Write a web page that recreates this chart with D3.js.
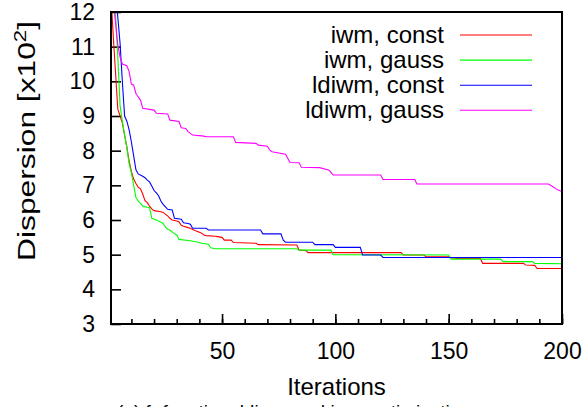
<!DOCTYPE html>
<html>
<head>
<meta charset="utf-8">
<script src="https://cdn.jsdelivr.net/npm/d3@7/dist/d3.min.js"></script>
<style>
  body { margin: 0; background: #fff; }
  text { font-family: "Liberation Sans", Arial, sans-serif; }
</style>
</head>
<body>
<svg id="chart" width="588" height="407"></svg>
<script>
// series: [iteration, dispersion x10^2]
const iwmConst = [[1,12.45],[2,11.3],[3,10.25],[4,9.2],[5,9.0],[6,8.8],[7,8.45],[8,8.1],[9,7.7],[10,7.4],[11,7.18],[12,7.05],[13,6.95],[14,6.9],[15,6.75],[16,6.56],[17,6.5],[18,6.4],[19,6.32],[20,6.27],[23,6.24],[24,6.22],[25,6.17],[26,6.12],[27,6.05],[28,6.0],[30,5.97],[31,5.95],[32,5.85],[33,5.82],[35,5.78],[36,5.76],[38,5.7],[40,5.65],[41,5.62],[42,5.57],[43,5.55],[47,5.53],[48,5.52],[50,5.5],[51,5.42],[54,5.42],[55,5.35],[65,5.33],[66,5.29],[83,5.28],[84,5.13],[87,5.12],[88,5.06],[129,5.06],[130,4.99],[139,4.99],[140,4.94],[150,4.94],[151,4.91],[154,4.89],[164,4.89],[165,4.75],[183,4.75],[184,4.7],[188,4.69],[189,4.6],[200,4.6]];
const iwmGauss = [[1,14.2],[2,13.1],[3,11.9],[4,10.7],[5,9.3],[6,8.85],[7,8.45],[8,8.08],[9,7.62],[10,7.35],[11,7.0],[12,6.65],[13,6.55],[14,6.48],[15,6.4],[17,6.37],[18,6.36],[19,6.05],[21,6.0],[22,5.97],[24,5.9],[25,5.8],[26,5.73],[27,5.71],[29,5.6],[30,5.57],[31,5.44],[35,5.41],[36,5.4],[40,5.35],[41,5.33],[44,5.3],[45,5.2],[47,5.17],[83,5.17],[84,5.13],[98,5.13],[99,5.0],[150,4.99],[151,4.87],[173,4.87],[174,4.8],[187,4.8],[188,4.75],[200,4.74]];
const ldiwmConst = [[1,14.6],[2,13.5],[3,12.6],[4,11.85],[5,11.1],[6,10.0],[7,9.0],[8,8.85],[9,8.6],[10,8.25],[11,7.85],[12,7.45],[13,7.33],[15,7.26],[16,7.22],[17,7.15],[18,7.1],[19,6.98],[20,6.85],[21,6.78],[22,6.7],[23,6.55],[24,6.45],[25,6.38],[26,6.31],[28,6.29],[29,6.05],[32,6.02],[33,5.92],[35,5.9],[36,5.88],[37,5.76],[43,5.76],[44,5.71],[67,5.71],[68,5.6],[76,5.6],[77,5.42],[78,5.36],[90,5.36],[91,5.29],[99,5.29],[100,5.21],[111,5.21],[112,4.99],[120,4.99],[121,4.92],[200,4.92]];
const ldiwmGauss = [[1,13.2],[2,12.3],[3,11.7],[4,11.05],[5,10.7],[6,10.5],[8,10.45],[9,10.28],[10,9.92],[11,9.89],[12,9.65],[13,9.55],[14,9.46],[15,9.22],[20,9.17],[21,9.08],[26,9.06],[27,8.88],[31,8.84],[32,8.66],[34,8.64],[35,8.55],[37,8.45],[42,8.42],[43,8.4],[55,8.4],[56,8.24],[65,8.21],[66,8.16],[70,8.13],[71,8.02],[72,7.97],[78,7.9],[80,7.66],[84,7.65],[85,7.52],[93,7.51],[97,7.44],[98,7.38],[99,7.3],[120,7.3],[121,7.17],[135,7.17],[136,7.04],[194,7.04],[196,6.96],[198,6.87],[200,6.82]];

const seriesNames = ['iwm, const', 'iwm, gauss', 'ldiwm, const', 'ldiwm, gauss'];
const xMajorTicks = [50, 100, 150, 200];
const xMinorTicks = d3.range(10, 201, 10);
const yTicks = d3.range(3, 13);

const colors = ['#ff0000', '#00ff00', '#0000ff', '#ff00ff'];
const allSeries = [iwmConst, iwmGauss, ldiwmConst, ldiwmGauss];

const plotLeft = 111, plotRight = 562, plotTop = 12, plotBottom = 324;

const svg = d3.select('#chart');

const x = d3.scaleLinear().domain([1, 200]).range([plotLeft, plotRight]);
const y = d3.scaleLinear().domain([3, 12]).range([plotBottom, plotTop]);

svg.append('defs').append('clipPath').attr('id', 'plot')
  .append('rect')
  .attr('x', plotLeft).attr('y', plotTop)
  .attr('width', plotRight - plotLeft).attr('height', plotBottom - plotTop);

// minor x ticks (inward, no labels)
svg.append('g')
  .attr('transform', `translate(0,${plotBottom})`)
  .call(d3.axisBottom(x).tickValues(xMinorTicks).tickSize(-5).tickFormat(''))
  .call(g => g.select('.domain').remove());

// major x ticks with labels
svg.append('g')
  .attr('transform', `translate(0,${plotBottom})`)
  .call(d3.axisBottom(x).tickValues(xMajorTicks).tickSize(-10).tickPadding(19))
  .call(g => g.select('.domain').remove())
  .call(g => g.selectAll('text').attr('font-size', 23).attr('font-family', '"Liberation Sans", Arial, sans-serif').attr('fill', '#000'));

// y ticks
svg.append('g')
  .attr('transform', `translate(${plotLeft},0)`)
  .call(d3.axisLeft(y).tickValues(yTicks).tickSize(-10).tickPadding(16))
  .call(g => g.select('.domain').remove())
  .call(g => g.selectAll('text').attr('font-size', 23).attr('font-family', '"Liberation Sans", Arial, sans-serif').attr('fill', '#000'));

svg.selectAll('.tick line').attr('stroke', '#000').attr('stroke-width', 1.6);

// series
const line = d3.line()
  .x(d => x(d[0]))
  .y(d => y(d[1]));

svg.append('g')
  .attr('clip-path', 'url(#plot)')
  .selectAll('path')
  .data(allSeries)
  .enter()
  .append('path')
  .attr('d', line)
  .attr('fill', 'none')
  .attr('stroke', (d, i) => colors[i])
  .attr('stroke-width', 1.1);

// frame
svg.append('rect')
  .attr('x', plotLeft).attr('y', plotTop)
  .attr('width', plotRight - plotLeft).attr('height', plotBottom - plotTop)
  .attr('fill', 'none')
  .attr('stroke', '#000')
  .attr('stroke-width', 2);

// legend
const legend = svg.append('g');
seriesNames.forEach((name, i) => {
  const ly = 35 + i * 25.1;
  legend.append('text')
    .attr('x', 444).attr('y', ly + 8)
    .attr('text-anchor', 'end')
    .attr('font-size', 24)
    .text(name);
  legend.append('line')
    .attr('x1', 460).attr('x2', 532)
    .attr('y1', ly).attr('y2', ly)
    .attr('stroke', colors[i])
    .attr('stroke-width', 1.1);
});

// axis titles
svg.append('text')
  .attr('x', (plotLeft + plotRight) / 2).attr('y', 395)
  .attr('text-anchor', 'middle')
  .attr('font-size', 24)
  .text('Iterations');

const yTitle = svg.append('text')
  .attr('transform', 'translate(35,141) rotate(-90)')
  .attr('text-anchor', 'middle')
  .attr('font-size', 23)
  .attr('textLength', 240)
  .attr('lengthAdjust', 'spacingAndGlyphs');
yTitle.append('tspan').text('Dispersion [x10');
yTitle.append('tspan').attr('font-size', 16).attr('dy', -9).text('2');
yTitle.append('tspan').attr('dy', 9).text(']');

// figure caption, cut off at the bottom edge as in the source
svg.append('text')
  .attr('x', 294).attr('y', 418)
  .attr('text-anchor', 'middle')
  .attr('font-family', '"Liberation Serif", "Times New Roman", serif')
  .attr('font-size', 19)
  .text('(a) f\u2081 function, ldiwm and iwm optimization');
</script>
</body>
</html>
